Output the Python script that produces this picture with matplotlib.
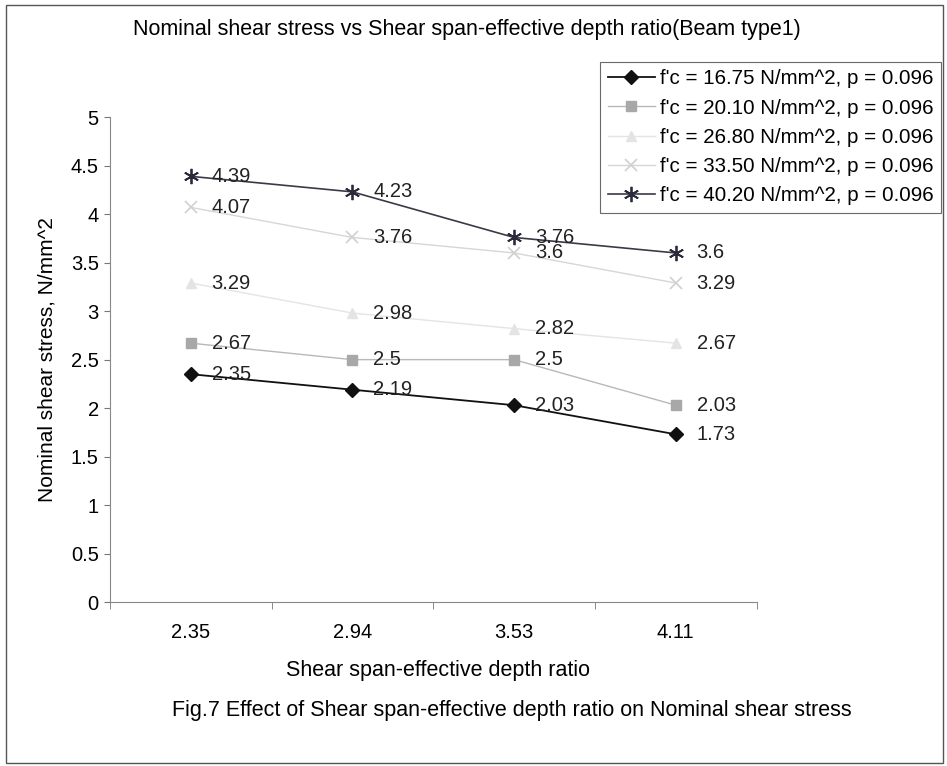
import matplotlib.pyplot as plt
from matplotlib.patches import Rectangle

plt.rcParams['font.family'] = ['Liberation Sans', 'DejaVu Sans']

ratios = ['2.35', '2.94', '3.53', '4.11']
s1 = [2.35, 2.19, 2.03, 1.73]
s2 = [2.67, 2.5, 2.5, 2.03]
s3 = [3.29, 2.98, 2.82, 2.67]
s4 = [4.07, 3.76, 3.6, 3.29]
s5 = [4.39, 4.23, 3.76, 3.6]
labels = ["f'c = 16.75 N/mm^2, p = 0.096",
          "f'c = 20.10 N/mm^2, p = 0.096",
          "f'c = 26.80 N/mm^2, p = 0.096",
          "f'c = 33.50 N/mm^2, p = 0.096",
          "f'c = 40.20 N/mm^2, p = 0.096"]

fig = plt.figure(figsize=(9.47, 7.66), dpi=100)
ax = fig.add_axes([0.116, 0.214, 0.683, 0.633])

x = list(range(len(ratios)))
styles = [
    dict(color='#111111', marker='D', ms=7, mfc='#111111', mec='#111111', lw=1.3),
    dict(color='#b8b8b8', marker='s', ms=7, mfc='#a8a8a8', mec='#a8a8a8', lw=1.0),
    dict(color='#e4e4e4', marker='^', ms=7, mfc='#e4e4e4', mec='#e4e4e4', lw=1.0),
    dict(color='#d6d6d6', marker='x', ms=9, mfc='none', mec='#d0d0d0', lw=1.0, mew=1.2),
    dict(color='#3a3a48', marker=(6, 2, 0), ms=11, mec='#2a2a3a', lw=1.2, mew=1.3),
]
for ys, lab, st in zip([s1, s2, s3, s4, s5], labels, styles):
    ax.plot(x, ys, label=lab, **st)
    for xi, yi in zip(x, ys):
        ax.annotate(f'{yi:g}', (xi, yi), xytext=(15, 0), textcoords='offset points',
                    va='center', ha='left', fontsize=14.5, color='#222222')

ax.set_xlim(-0.5, 3.5)
ax.set_ylim(0, 5)
ax.set_yticks([0, 0.5, 1, 1.5, 2, 2.5, 3, 3.5, 4, 4.5, 5])
ax.set_yticklabels(['0', '0.5', '1', '1.5', '2', '2.5', '3', '3.5', '4', '4.5', '5'])
ax.set_xticks(x)
ax.set_xticklabels(ratios, fontsize=14.5)
ax.set_xticks([-0.5, 0.5, 1.5, 2.5, 3.5], minor=True)
ax.tick_params(axis='x', which='major', length=0, pad=15)
ax.tick_params(axis='x', which='minor', length=5, color='#777777')
ax.tick_params(axis='y', length=4, color='#777777', labelsize=14.5, pad=4)
for sp in ['top', 'right']:
    ax.spines[sp].set_visible(False)
for sp in ['left', 'bottom']:
    ax.spines[sp].set_color('#888888')

ax.set_ylabel('Nominal shear stress, N/mm^2', fontsize=15, labelpad=10)

fig.text(0.493, 0.961, 'Nominal shear stress vs Shear span-effective depth ratio(Beam type1)',
         ha='center', va='center', fontsize=15.5)
fig.text(0.462, 0.125, 'Shear span-effective depth ratio', ha='center', va='center', fontsize=15.5)
fig.text(0.54, 0.073, 'Fig.7 Effect of Shear span-effective depth ratio on Nominal shear stress',
         ha='center', va='center', fontsize=15.5)

leg = fig.legend(loc='upper left', bbox_to_anchor=(0.634, 0.919), fontsize=14.8,
                 frameon=True, fancybox=False, handlelength=2.3, borderpad=0.35,
                 labelspacing=0.5, handletextpad=0.25, borderaxespad=0)
leg.get_frame().set_edgecolor('#444444')
leg.get_frame().set_linewidth(0.8)

fig.patches.append(Rectangle((0.006, 0.004), 0.99, 0.99, transform=fig.transFigure,
                             fill=False, edgecolor='#555555', lw=1))

fig.savefig('out.png', dpi=100)
